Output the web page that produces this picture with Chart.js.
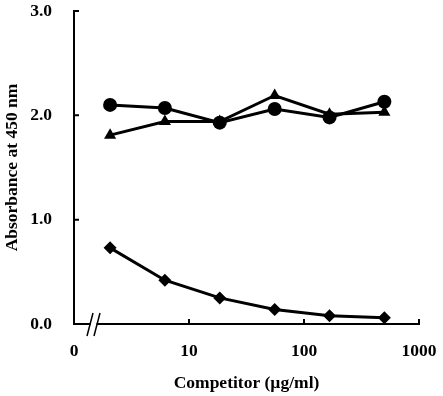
<!DOCTYPE html>
<html>
<head>
<meta charset="utf-8">
<script src="https://cdn.jsdelivr.net/npm/chart.js@4"></script>
<style>
  html, body { margin: 0; padding: 0; background: #fff; }
  #wrap { width: 443px; height: 396px; }
</style>
</head>
<body>
<div id="wrap"><canvas id="chart"></canvas></div>
<script>
// Competitor concentrations (ug/ml), 3-fold dilutions
const concentrations = [2.06, 6.17, 18.5, 55.6, 166.7, 500];
const circleValues = [2.10, 2.07, 1.93, 2.06, 1.98, 2.13];
const triangleValues = [1.81, 1.94, 1.94, 2.19, 2.01, 2.03];
const diamondValues = [0.73, 0.42, 0.25, 0.14, 0.08, 0.06];
const xTickValues = [1, 10, 100, 1000];
const xTickLabels = ['0', '10', '100', '1000'];
const yTickValues = [0, 1, 2, 3];

const font = { family: 'Liberation Serif', size: 17.5, weight: 'bold' };

const toPoints = vals => vals.map((v, i) => ({ x: concentrations[i], y: v }));

// Inside tick marks + axis break
const axisDecor = {
  id: 'axisDecor',
  afterDraw(chart) {
    const ctx = chart.ctx;
    const x = chart.scales.x, y = chart.scales.y;
    const area = chart.chartArea;
    ctx.save();
    ctx.strokeStyle = '#000';
    ctx.lineWidth = 2;
    ctx.beginPath();
    yTickValues.forEach(v => {
      const py = y.getPixelForValue(v);
      ctx.moveTo(area.left, py);
      ctx.lineTo(area.left + 5, py);
    });
    xTickValues.slice(1).forEach(v => {
      const px = x.getPixelForValue(v);
      ctx.moveTo(px, area.bottom);
      ctx.lineTo(px, area.bottom - 5);
    });
    ctx.stroke();
    // break marks
    const bx = area.left + 19.5, by = area.bottom;
    ctx.fillStyle = '#fff';
    ctx.fillRect(bx - 3, by - 2, 6, 4);
    ctx.lineWidth = 1.5;
    ctx.beginPath();
    ctx.moveTo(bx - 6.5, by + 12); ctx.lineTo(bx - 0.5, by - 11);
    ctx.moveTo(bx + 0.5, by + 12); ctx.lineTo(bx + 6.5, by - 11);
    ctx.stroke();
    ctx.restore();
  }
};

const series = (data, style, radius) => ({
  data: toPoints(data),
  borderColor: '#000',
  backgroundColor: '#000',
  borderWidth: 3,
  pointStyle: style,
  pointRadius: radius,
  pointBorderWidth: 0,
  tension: 0
});

new Chart(document.getElementById('chart'), {
  type: 'line',
  data: {
    datasets: [
      series(circleValues, 'circle', 7),
      series(triangleValues, 'triangle', 7),
      series(diamondValues, 'rectRot', 6.5)
    ]
  },
  options: {
    responsive: true,
    maintainAspectRatio: false,
    animation: false,
    layout: { padding: { top: 11, right: 24, left: 0, bottom: 0 } },
    plugins: { legend: { display: false }, tooltip: { enabled: false } },
    scales: {
      x: {
        type: 'logarithmic',
        min: 1,
        max: 1000,
        afterBuildTicks: s => { s.ticks = xTickValues.map(v => ({ value: v })); },
        afterFit: s => { s.height = 72; s.paddingLeft = 0; s.paddingRight = 0; },
        grid: { display: false, drawTicks: false },
        border: { display: true, color: '#000', width: 2 },
        ticks: {
          color: '#000',
          font: font,
          padding: 17,
          maxRotation: 0,
          autoSkip: false,
          callback: (v, i) => xTickLabels[i]
        },
        title: {
          display: true,
          text: 'Competitor (\u00b5g/ml)',
          color: '#000',
          font: font,
          padding: { top: 0, bottom: 2 }
        }
      },
      y: {
        min: 0,
        max: 3,
        afterBuildTicks: s => { s.ticks = yTickValues.map(v => ({ value: v })); },
        afterFit: s => { s.width = 74; s.paddingTop = 0; s.paddingBottom = 0; },
        grid: { display: false, drawTicks: false },
        border: { display: true, color: '#000', width: 2 },
        ticks: {
          color: '#000',
          font: font,
          padding: 22,
          callback: v => v.toFixed(1)
        },
        title: {
          display: true,
          text: 'Absorbance at 450 nm',
          color: '#000',
          font: font,
          padding: { top: 1.5, bottom: 0 }
        }
      }
    }
  },
  plugins: [axisDecor]
});
</script>
</body>
</html>
